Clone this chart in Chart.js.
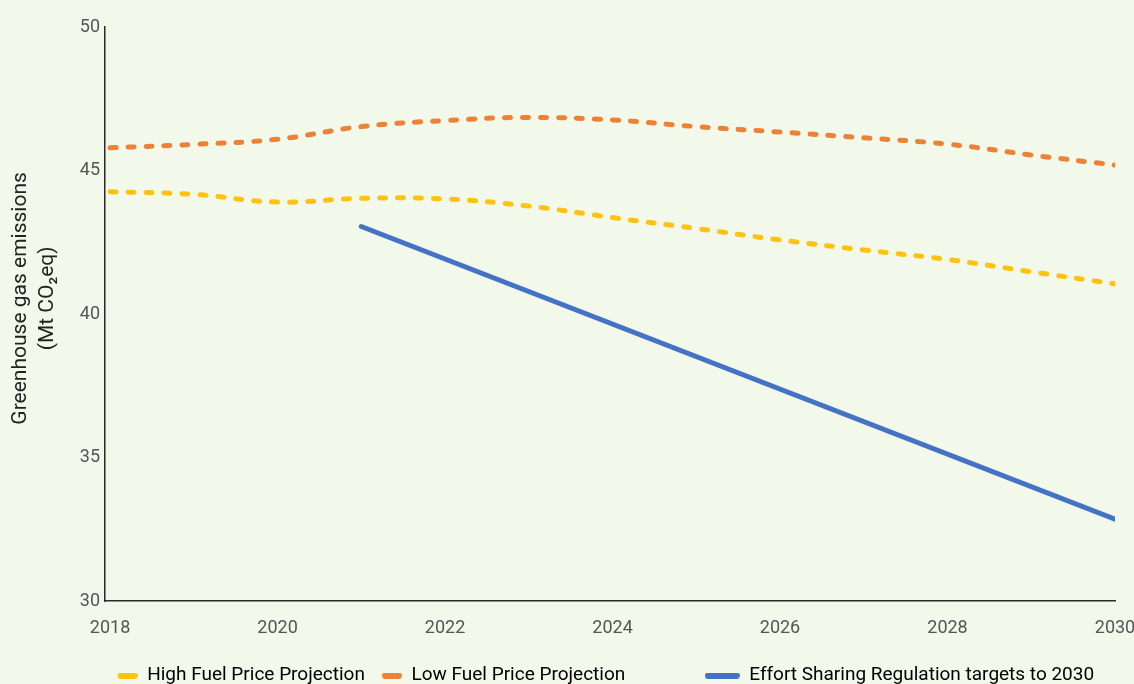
<!DOCTYPE html>
<html><head><meta charset="utf-8">
<script src="https://cdn.jsdelivr.net/npm/chart.js@4.4.1/dist/chart.umd.min.js"></script>
<style>
html,body{margin:0;padding:0;background:#f2f8ea;overflow:hidden}
#wrap{width:1134px;height:695px;position:relative}
</style></head><body>
<div id="wrap"><canvas id="c"></canvas></div>
<script>
const years = [2018, 2019, 2020, 2021, 2022, 2023, 2024, 2025, 2026, 2027, 2028, 2029, 2030];
const highFuel = [44.26, 44.17, 43.90, 44.03, 44.01, 43.76, 43.36, 42.98, 42.58, 42.23, 41.90, 41.47, 41.05];
const lowFuel  = [45.79, 45.91, 46.09, 46.53, 46.74, 46.85, 46.76, 46.53, 46.34, 46.14, 45.92, 45.54, 45.19];
const esrYears = [2021, 2030];
const esrTargets = [43.05, 32.85];
const xTicks = [2018, 2020, 2022, 2024, 2026, 2028, 2030];
const yTicks = [30, 35, 40, 45, 50];
const seriesNames = ['High Fuel Price Projection', 'Low Fuel Price Projection', 'Effort Sharing Regulation targets to 2030'];
const yTitle = ['      Greenhouse gas emissions', '      (Mt CO\u2082eq)'];

const YELLOW = '#ffc20e', ORANGE = '#ed8236', BLUE = '#4472c4';
const FONT = 'Roboto, "DejaVu Sans", sans-serif';

function swatch(color, lineLen) {
  const c = document.createElement('canvas');
  c.width = 35; c.height = 6;
  const g = c.getContext('2d');
  g.strokeStyle = color; g.lineWidth = 6; g.lineCap = 'round';
  g.beginPath(); g.moveTo(35 - lineLen + 3, 3); g.lineTo(32, 3); g.stroke();
  return c;
}
const swatches = [swatch(YELLOW, 20), swatch(ORANGE, 20), swatch(BLUE, 35)];
const legendTail = ['', '\u2003\u2003\u2003\u2003', '    '];

new Chart(document.getElementById('c'), {
  type: 'line',
  data: {
    datasets: [
      { label: seriesNames[0], data: years.map((x, i) => ({x, y: highFuel[i]})),
        borderColor: YELLOW, borderWidth: 5, borderDash: [6, 12], borderCapStyle: 'round',
        tension: 0.4, pointRadius: 0, fill: false },
      { label: seriesNames[1], data: years.map((x, i) => ({x, y: lowFuel[i]})),
        borderColor: ORANGE, borderWidth: 5, borderDash: [6, 12], borderCapStyle: 'round',
        tension: 0.4, pointRadius: 0, fill: false },
      { label: seriesNames[2], data: esrYears.map((x, i) => ({x, y: esrTargets[i]})),
        borderColor: BLUE, borderWidth: 5, borderCapStyle: 'round',
        tension: 0, pointRadius: 0, fill: false }
    ]
  },
  options: {
    responsive: true, maintainAspectRatio: false, animation: false,
    layout: { padding: { top: 27, right: 19, left: 0, bottom: 0 } },
    plugins: {
      tooltip: { enabled: false },
      legend: {
        position: 'bottom', align: 'end',
        labels: {
          usePointStyle: true, pointStyleWidth: 35, padding: 2,
          color: '#333', font: { family: FONT, size: 19 },
          generateLabels: (chart) => chart.data.datasets.map((ds, i) => ({
            text: ds.label + legendTail[i], fillStyle: ds.borderColor, strokeStyle: ds.borderColor,
            lineWidth: 0, pointStyle: swatches[i], datasetIndex: i, hidden: false
          }))
        }
      }
    },
    scales: {
      x: {
        type: 'linear', min: 2017.94, max: 2030,
        afterBuildTicks: (s) => { s.ticks = xTicks.map(v => ({value: v})); },
        afterFit: (s) => { s.height = 63; s.paddingRight = 0; s.paddingLeft = 0; },
        grid: { display: false, drawTicks: false },
        border: { display: true, color: '#2b2b2b', width: 1.5 },
        ticks: { padding: 17, color: '#555', font: { family: FONT, size: 18 }, callback: (v) => String(v), maxRotation: 0 }
      },
      y: {
        min: 30, max: 50,
        afterBuildTicks: (s) => { s.ticks = yTicks.map(v => ({value: v})); },
        afterFit: (s) => { s.width = 105; },
        grid: { display: false, drawTicks: false },
        border: { display: true, color: '#2b2b2b', width: 1.5 },
        ticks: { padding: 5, color: '#555', font: { family: FONT, size: 18 } },
        title: { display: true, text: yTitle, color: '#222', font: { family: FONT, size: 21, lineHeight: 1.3 }, padding: { top: 7, bottom: 0 } }
      }
    }
  }
});
</script>
</body></html>
